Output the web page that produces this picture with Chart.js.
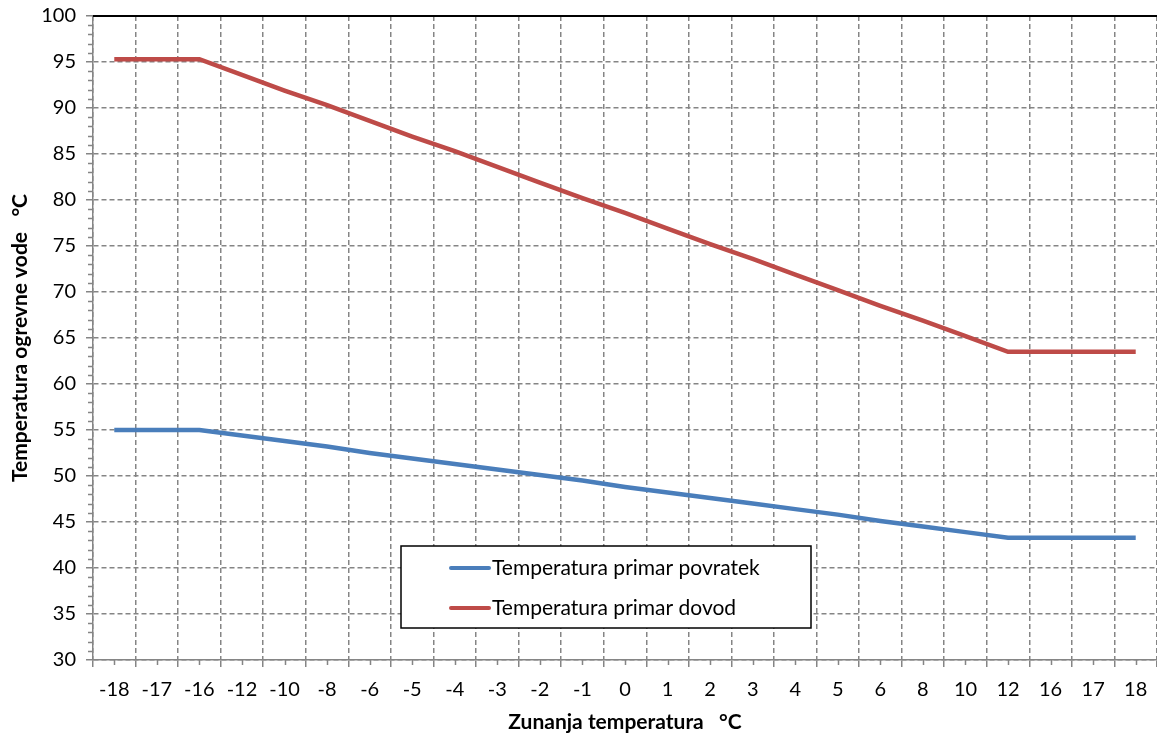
<!DOCTYPE html>
<html>
<head>
<meta charset="utf-8">
<script src="https://cdn.jsdelivr.net/npm/chart.js@4.4.1/dist/chart.umd.min.js"></script>
<style>
  html, body { margin: 0; padding: 0; background: #fff; overflow: hidden; }
  #chart { display: block; }
</style>
</head>
<body>
<canvas id="chart" width="1157" height="737"></canvas>
<script>
// Outside temperature categories (as printed on the x axis)
const outsideTemps = ['-18', '-17', '-16', '-12', '-10', '-8', '-6', '-5', '-4', '-3', '-2', '-1',
  '0', '1', '2', '3', '4', '5', '6', '8', '10', '12', '16', '17', '18'];

// Primary return temperature (blue)
const returnTemps = [55.0, 55.0, 55.0, 54.4, 53.8, 53.2, 52.5, 51.9, 51.3, 50.7, 50.1, 49.5,
  48.8, 48.2, 47.6, 47.0, 46.4, 45.8, 45.1, 44.5, 43.9, 43.3, 43.3, 43.3, 43.3];

// Primary supply temperature (red)
const supplyTemps = [95.3, 95.3, 95.3, 93.6, 91.9, 90.3, 88.6, 86.9, 85.3, 83.6, 81.9, 80.2,
  78.6, 76.9, 75.2, 73.6, 71.9, 70.2, 68.5, 66.9, 65.2, 63.5, 63.5, 63.5, 63.5];

const yMin = 30;
const yMax = 100;
const yStep = 5;

const seriesNames = ['Temperatura primar povratek', 'Temperatura primar dovod'];
const seriesColours = ['#4A7EBB', '#BE4B48'];

const gridGray = '#858585';
const fontFamily = 'Lato, "Open Sans", sans-serif';

// draws the black top edge, the minor ticks and the boxed legend
const decorations = {
  id: 'decorations',
  afterDatasetsDraw(chart) {
    const ctx = chart.ctx;
    const area = chart.chartArea;
    const xs = chart.scales.x;
    const ys = chart.scales.y;
    ctx.save();
    // minor ticks on y axis (every 1 degree)
    ctx.strokeStyle = gridGray;
    ctx.lineWidth = 1.5;
    ctx.beginPath();
    for (let v = yMin; v <= yMax; v++) {
      if (v % yStep === 0) continue;
      const py = Math.round(ys.getPixelForValue(v)) + 0.5;
      ctx.moveTo(area.left - 5, py);
      ctx.lineTo(area.left, py);
    }
    // minor ticks on x axis (category centres)
    for (let i = 0; i < outsideTemps.length; i++) {
      const px = Math.round(xs.getPixelForTick(i)) + 0.5;
      ctx.moveTo(px, area.bottom);
      ctx.lineTo(px, area.bottom + 5);
    }
    ctx.stroke();
    // top edge
    ctx.strokeStyle = '#000';
    ctx.lineWidth = 2;
    ctx.beginPath();
    ctx.moveTo(area.left, area.top);
    ctx.lineTo(area.right, area.top);
    ctx.stroke();
    ctx.restore();
  },
  afterDraw(chart) {
    const ctx = chart.ctx;
    const boxX = 401, boxY = 546, boxW = 410, boxH = 82;
    ctx.save();
    ctx.fillStyle = '#fff';
    ctx.fillRect(boxX, boxY, boxW, boxH);
    ctx.strokeStyle = '#000';
    ctx.lineWidth = 1.5;
    ctx.strokeRect(boxX, boxY, boxW, boxH);
    ctx.font = '21px ' + fontFamily;
    ctx.textBaseline = 'middle';
    ctx.fillStyle = '#000';
    chart.data.datasets.forEach((ds, i) => {
      const cy = boxY + 22 + i * 40;
      ctx.strokeStyle = ds.borderColor;
      ctx.lineWidth = 4;
      ctx.lineCap = 'round';
      ctx.beginPath();
      ctx.moveTo(451, cy);
      ctx.lineTo(489, cy);
      ctx.stroke();
      ctx.fillText(ds.label, 492, cy);
    });
    ctx.restore();
  }
};

new Chart(document.getElementById('chart'), {
  type: 'line',
  data: {
    labels: outsideTemps,
    datasets: [
      {
        label: seriesNames[0],
        data: returnTemps,
        borderColor: seriesColours[0],
        backgroundColor: seriesColours[0],
        borderWidth: 4.5,
        pointRadius: 0,
        tension: 0,
        fill: false,
      },
      {
        label: seriesNames[1],
        data: supplyTemps,
        borderColor: seriesColours[1],
        backgroundColor: seriesColours[1],
        borderWidth: 4.5,
        pointRadius: 0,
        tension: 0,
        fill: false,
      },
    ],
  },
  options: {
    responsive: false,
    animation: false,
    devicePixelRatio: 1,
    layout: { padding: { top: 16, right: 0, left: 0, bottom: 0 } },
    scales: {
      x: {
        type: 'category',
        offset: true,
        grid: {
          offset: true,
          color: gridGray,
          lineWidth: 1.5,
          tickColor: gridGray,
          tickLength: 7,
          tickWidth: 1.5,
        },
        border: { color: gridGray, width: 1.5, dash: [5, 3] },
        ticks: {
          autoSkip: false,
          maxRotation: 0,
          padding: 11,
          color: '#000',
          font: { family: fontFamily, size: 20 },
        },
        title: {
          display: true,
          text: 'Zunanja temperatura   °C',
          color: '#000',
          font: { family: fontFamily, size: 21, weight: 'bold' },
          padding: { top: 2, bottom: 2 },
        },
        afterFit(scale) {
          scale.height = 77;
          scale.paddingLeft = 0;
          scale.paddingRight = 0;
        },
      },
      y: {
        min: yMin,
        max: yMax,
        ticks: {
          stepSize: yStep,
          padding: 10,
          color: '#000',
          font: { family: fontFamily, size: 20 },
        },
        grid: {
          color: gridGray,
          lineWidth: 1.5,
          tickColor: gridGray,
          tickLength: 7,
          tickWidth: 1.5,
        },
        border: { color: gridGray, width: 1.5, dash: [5, 3] },
        title: {
          display: true,
          text: 'Temperatura ogrevne vode   °C',
          color: '#000',
          font: { family: fontFamily, size: 21, weight: 'bold' },
          padding: { top: 8, bottom: 4 },
        },
        afterFit(scale) {
          scale.width = 93;
          scale.paddingTop = 0;
          scale.paddingBottom = 0;
        },
      },
    },
    plugins: {
      legend: { display: false },
      tooltip: { enabled: false },
    },
  },
  plugins: [decorations],
});
</script>
</body>
</html>
